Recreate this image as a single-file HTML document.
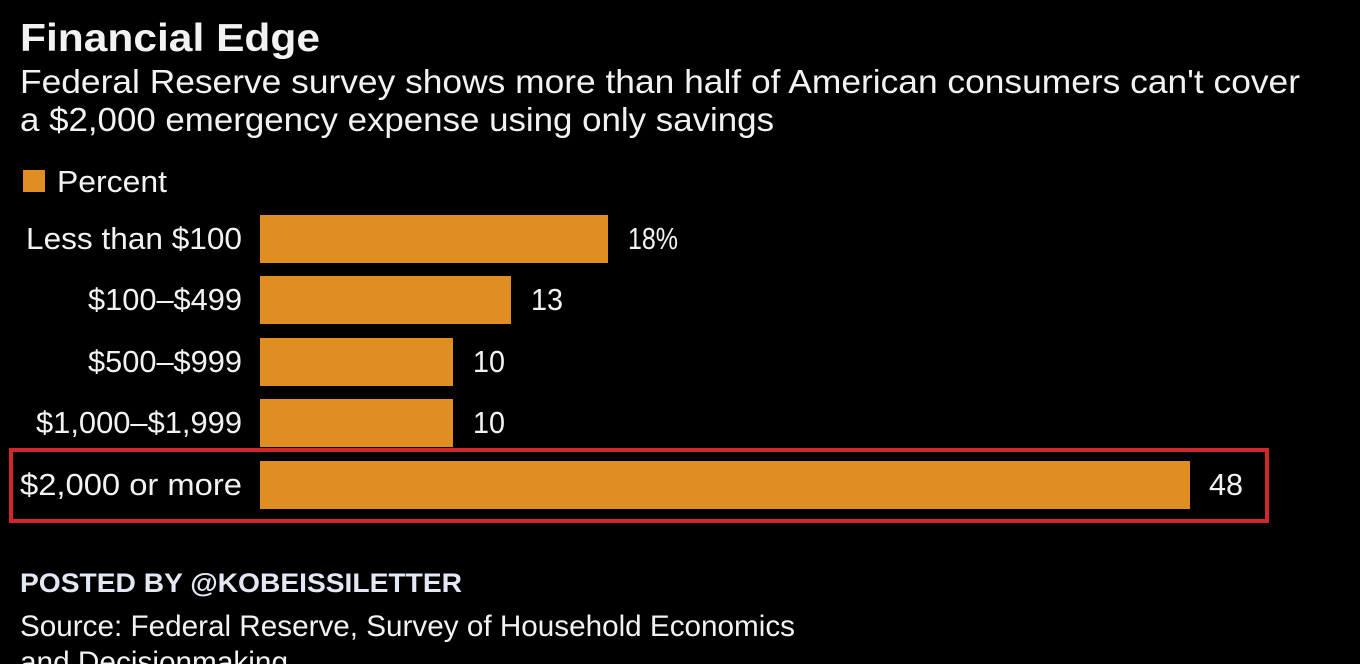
<!DOCTYPE html>
<html><head><meta charset="utf-8"><style>
html,body{margin:0;padding:0;background:#000;}
svg{display:block}
text{font-family:"Liberation Sans Narrow","Liberation Sans",sans-serif;fill:#f2f2f2}
</style></head><body>
<svg width="1360" height="664" viewBox="0 0 1360 664" xmlns="http://www.w3.org/2000/svg">
<rect width="1360" height="664" fill="#000"/>
<text x="20" y="51" font-size="39" font-weight="bold" textLength="300" lengthAdjust="spacingAndGlyphs">Financial Edge</text>
<text x="20" y="93" font-size="33" textLength="1280" lengthAdjust="spacingAndGlyphs">Federal Reserve survey shows more than half of American consumers can't cover</text>
<text x="20" y="131" font-size="33" textLength="754" lengthAdjust="spacingAndGlyphs">a $2,000 emergency expense using only savings</text>
<rect x="23" y="170" width="22" height="22" fill="#e08d22"/>
<text x="57" y="192" font-size="31" textLength="110" lengthAdjust="spacingAndGlyphs">Percent</text>
<g fill="#e08d22">
<rect x="260" y="215" width="348" height="48"/>
<rect x="260" y="276" width="251" height="48"/>
<rect x="260" y="338" width="193" height="48"/>
<rect x="260" y="399" width="193" height="48"/>
<rect x="260" y="461" width="930" height="48"/>
</g>
<g font-size="31" text-anchor="end">
<text x="242" y="249" textLength="216" lengthAdjust="spacingAndGlyphs">Less than $100</text>
<text x="242" y="310" textLength="154" lengthAdjust="spacingAndGlyphs">$100–$499</text>
<text x="242" y="372" textLength="154" lengthAdjust="spacingAndGlyphs">$500–$999</text>
<text x="242" y="433" textLength="206" lengthAdjust="spacingAndGlyphs">$1,000–$1,999</text>
<text x="242" y="495" textLength="222" lengthAdjust="spacingAndGlyphs">$2,000 or more</text>
</g>
<g font-size="31">
<text x="628" y="249" textLength="50" lengthAdjust="spacingAndGlyphs">18%</text>
<text x="531" y="310" textLength="32" lengthAdjust="spacingAndGlyphs">13</text>
<text x="473" y="372" textLength="32" lengthAdjust="spacingAndGlyphs">10</text>
<text x="473" y="433" textLength="32" lengthAdjust="spacingAndGlyphs">10</text>
<text x="1209" y="495" textLength="34" lengthAdjust="spacingAndGlyphs">48</text>
</g>
<rect x="11" y="450" width="1256" height="71" fill="none" stroke="#d0262c" stroke-width="4"/>
<text x="20" y="592" font-size="27" font-weight="bold" style="fill:#e4e8f4" textLength="442" lengthAdjust="spacingAndGlyphs">POSTED BY @KOBEISSILETTER</text>
<text x="20" y="636" font-size="30" textLength="775" lengthAdjust="spacingAndGlyphs">Source: Federal Reserve, Survey of Household Economics</text>
<text x="20" y="672" font-size="30" textLength="268" lengthAdjust="spacingAndGlyphs">and Decisionmaking</text>
</svg>
</body></html>
